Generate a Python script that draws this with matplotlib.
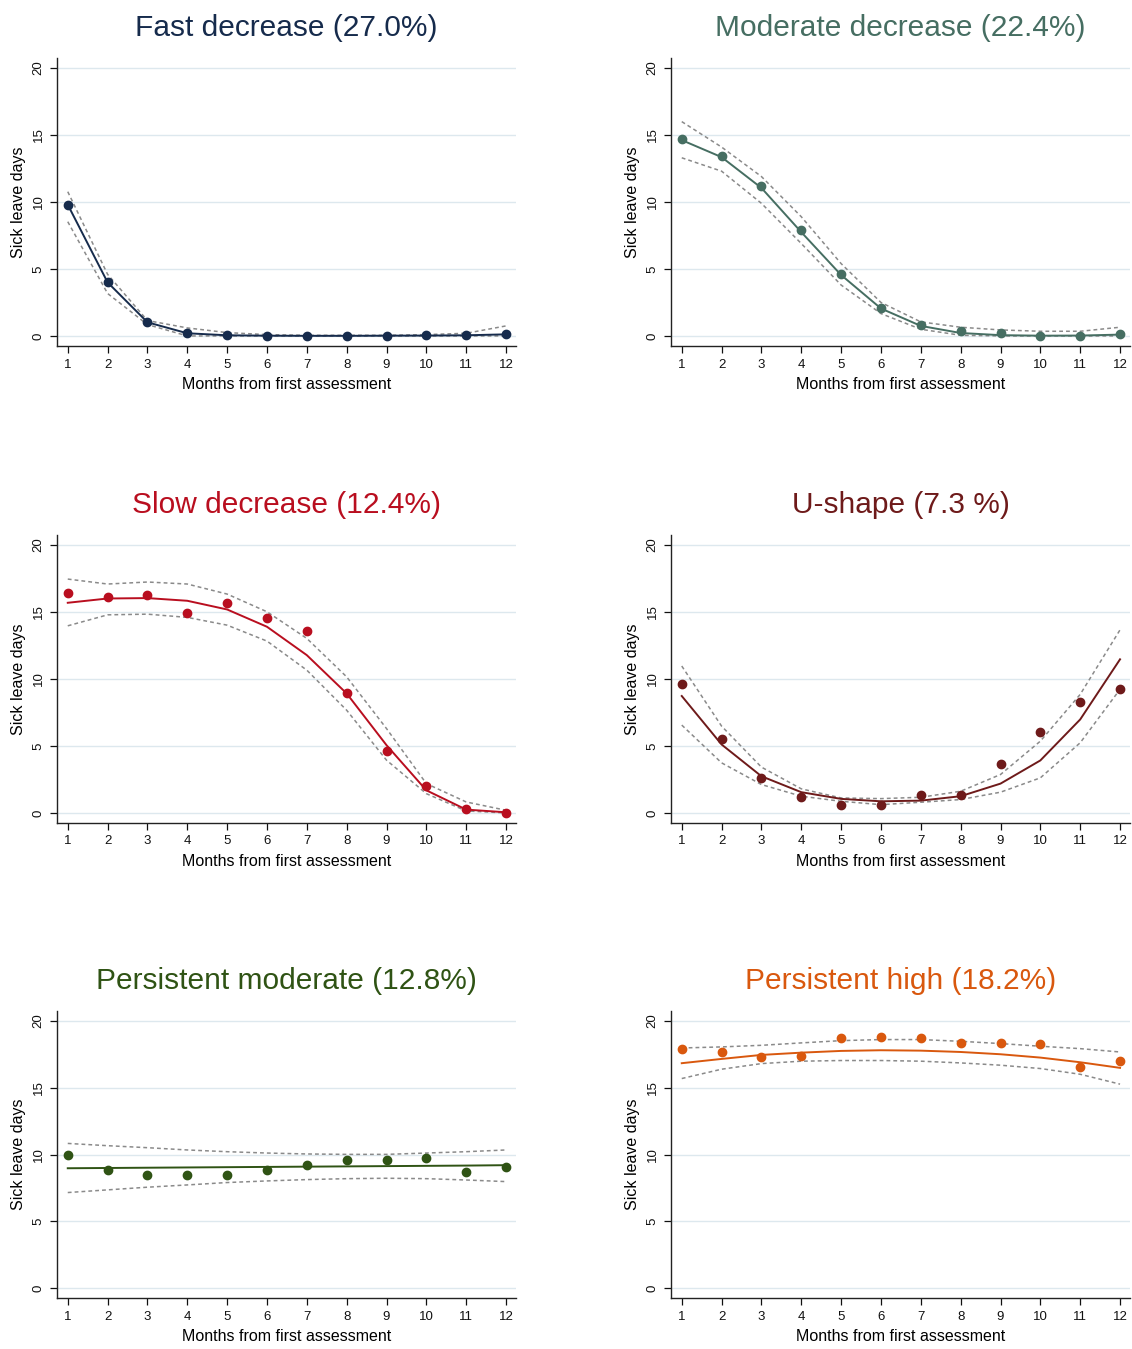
#!/usr/bin/env python3
"""Sick leave trajectories, six groups"""

import matplotlib
matplotlib.use("Agg")
import matplotlib.pyplot as plt

plt.rcParams['font.family'] = ['Liberation Sans', 'DejaVu Sans']

months = list(range(1, 13))

titles = ['Fast decrease (27.0%)', 'Moderate decrease (22.4%)',
          'Slow decrease (12.4%)', 'U-shape (7.3 %)',
          'Persistent moderate (12.8%)', 'Persistent high (18.2%)']
colors = ['#162b4c', '#466e62', '#b90e1f', '#6e1a1a', '#2f5314', '#d9580e']

# observed means
obs_fast = [9.8, 4.05, 1.05, 0.2, 0.05, 0.02, 0.0, 0.0, 0.0, 0.05, 0.05, 0.15]
obs_mod = [14.69, 13.42, 11.22, 7.88, 4.64, 2.12, 0.85, 0.35, 0.22, 0.0, 0.03, 0.15]
obs_slow = [16.39, 16.09, 16.24, 14.92, 15.64, 14.52, 13.60, 8.97, 4.61, 1.99, 0.30, 0.0]
obs_u = [9.6, 5.49, 2.62, 1.20, 0.62, 0.62, 1.37, 1.32, 3.67, 6.08, 8.28, 9.23]
obs_pmod = [9.96, 8.84, 8.44, 8.44, 8.47, 8.87, 9.22, 9.59, 9.59, 9.76, 8.69, 9.04]
obs_phigh = [17.93, 17.68, 17.31, 17.36, 18.75, 18.83, 18.73, 18.38, 18.33, 18.26, 16.56, 17.04]

# fitted trajectories
fit_fast = [9.8, 4.0, 1.02, 0.2, 0.05, 0.02, 0.01, 0.01, 0.02, 0.03, 0.05, 0.12]
fit_mod = [14.62, 13.35, 11.05, 7.75, 4.55, 2.05, 0.75, 0.22, 0.06, 0.02, 0.03, 0.1]
fit_slow = [15.69, 16.01, 16.04, 15.84, 15.19, 13.90, 11.78, 8.92, 5.06, 1.69, 0.25, 0.05]
fit_u = [8.73, 5.11, 2.74, 1.55, 1.05, 0.87, 0.92, 1.25, 2.19, 3.92, 6.98, 11.47]
fit_pmod = [8.97, 8.99, 9.01, 9.03, 9.05, 9.07, 9.09, 9.11, 9.13, 9.15, 9.17, 9.2]
fit_phigh = [16.84, 17.16, 17.46, 17.63, 17.76, 17.81, 17.78, 17.68, 17.51, 17.26, 16.91, 16.49]

# 95% CI upper / lower
up_fast = [10.77, 4.6, 1.15, 0.6, 0.25, 0.1, 0.05, 0.05, 0.05, 0.1, 0.2, 0.75]
lo_fast = [8.53, 3.17, 0.85, 0.0, 0.0, 0.0, 0.0, 0.0, 0.0, 0.0, 0.0, 0.0]
up_mod = [16.0, 14.1, 11.9, 8.9, 5.4, 2.5, 1.05, 0.65, 0.45, 0.35, 0.35, 0.65]
lo_mod = [13.3, 12.3, 9.9, 6.9, 3.8, 1.67, 0.5, 0.05, 0.0, 0.0, 0.0, 0.0]
up_slow = [17.46, 17.09, 17.24, 17.09, 16.34, 15.02, 13.03, 10.16, 6.30, 2.19, 0.82, 0.2]
lo_slow = [13.97, 14.79, 14.84, 14.60, 14.02, 12.83, 10.66, 7.67, 3.94, 1.44, 0.15, 0.0]
up_u = [10.97, 6.48, 3.42, 1.80, 1.12, 1.07, 1.17, 1.62, 2.87, 5.36, 8.85, 13.67]
lo_u = [6.56, 3.74, 2.12, 1.25, 0.87, 0.62, 0.80, 1.0, 1.55, 2.62, 5.24, 9.23]
up_pmod = [10.83, 10.66, 10.51, 10.34, 10.21, 10.11, 10.04, 10.01, 10.01, 10.11, 10.21, 10.34]
lo_pmod = [7.15, 7.35, 7.55, 7.72, 7.90, 8.02, 8.12, 8.19, 8.22, 8.19, 8.09, 7.97]
up_phigh = [17.98, 18.06, 18.18, 18.36, 18.53, 18.61, 18.61, 18.48, 18.31, 18.11, 17.93, 17.68]
lo_phigh = [15.69, 16.39, 16.81, 16.99, 17.04, 17.04, 16.99, 16.86, 16.69, 16.44, 16.01, 15.27]

observed = [obs_fast, obs_mod, obs_slow, obs_u, obs_pmod, obs_phigh]
fitted = [fit_fast, fit_mod, fit_slow, fit_u, fit_pmod, fit_phigh]
upper = [up_fast, up_mod, up_slow, up_u, up_pmod, up_phigh]
lower = [lo_fast, lo_mod, lo_slow, lo_u, lo_pmod, lo_phigh]

W, H = 1132, 1349
fig = plt.figure(figsize=(W / 100, H / 100), dpi=100)

# axes boxes in pixels: left, top, right, bottom
lefts = [57, 671]
rows = [(58, 346), (535, 823), (1011, 1298)]

for i in range(6):
    r, c = divmod(i, 2)
    l = lefts[c]
    t, b = rows[r]
    rgt = l + 459
    ax = fig.add_axes([l / W, 1 - b / H, (rgt - l) / W, (b - t) / H])

    ax.plot(months, upper[i], color='#8a8a8a', linestyle=(0, (2.5, 2)), linewidth=1.1)
    ax.plot(months, lower[i], color='#8a8a8a', linestyle=(0, (2.5, 2)), linewidth=1.1)
    ax.plot(months, fitted[i], color=colors[i], linewidth=1.4)
    ax.plot(months, observed[i], 'o', color=colors[i], markersize=6)

    ax.set_xlim(0.73, 12.25)
    ax.set_ylim(-0.75, 20.75)
    ax.set_xticks(months)
    ax.set_yticks([0, 5, 10, 15, 20])
    ax.grid(axis='y', color='#dde8ee', linewidth=1.0)
    ax.set_axisbelow(True)
    for s in ['top', 'right']:
        ax.spines[s].set_visible(False)
    for s in ['left', 'bottom']:
        ax.spines[s].set_color('#222222')
        ax.spines[s].set_linewidth(1.0)
    ax.tick_params(axis='both', direction='out', length=5, width=0.9,
                   labelsize=9.5, colors='#111111', pad=4)
    for lab in ax.get_yticklabels():
        lab.set_rotation(90)
        lab.set_va('center')

    ax.set_xlabel('Months from first assessment', fontsize=11.5, labelpad=5)
    ax.set_ylabel('Sick leave days', fontsize=11.5, labelpad=5)
    ax.set_title(titles[i], fontsize=21.5, color=colors[i], pad=16)

plt.savefig("out.png", dpi=100)
print("Saved to out.png")
